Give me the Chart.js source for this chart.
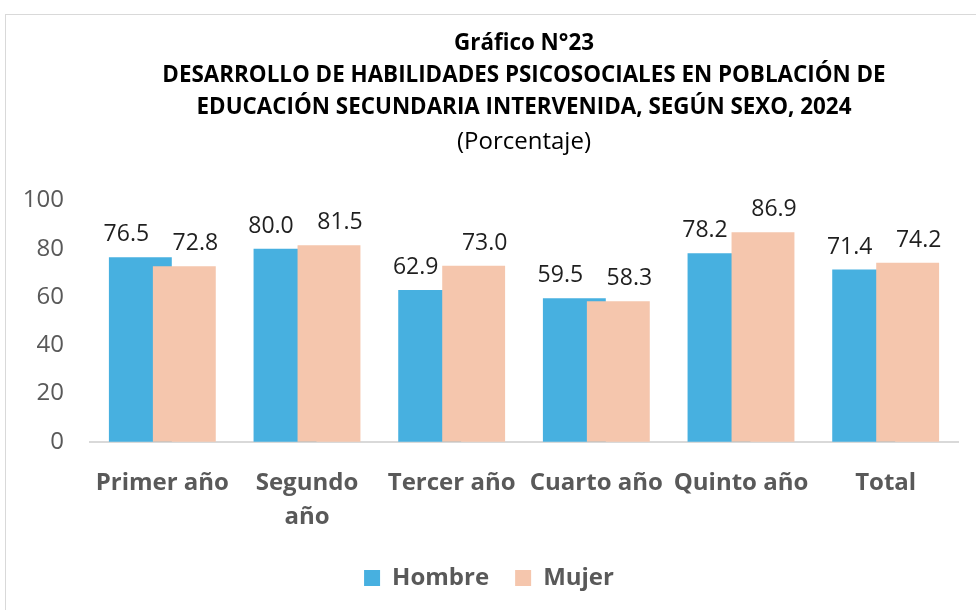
<!DOCTYPE html>
<html lang="es">
<head>
<meta charset="utf-8">
<title>Gráfico N°23</title>
<script src="https://cdn.jsdelivr.net/npm/chart.js@4.4.1/dist/chart.umd.min.js"></script>
<style>
    html, body { margin: 0; padding: 0; background: #fff; overflow: hidden; }
    .frame {
        position: absolute; left: 5px; top: 14px;
        width: 1100px; height: 700px;
        border: 1px solid #d9d9d9;
    }
    #chart23 { position: absolute; left: 0; top: 0; }
</style>
</head>
<body>
<div class="frame"></div>
<canvas id="chart23" width="976" height="610"></canvas>
<script>
// Datos del gráfico
const categories = ['Primer año', ['Segundo', 'año'], 'Tercer año', 'Cuarto año', 'Quinto año', 'Total'];
const hombre = [76.5, 80.0, 62.9, 59.5, 78.2, 71.4];
const mujer = [72.8, 81.5, 73.0, 58.3, 86.9, 74.2];
const yMin = 0;
const yMax = 100;
const yStep = 20;

const titleLines = [
    'Gráfico N°23',
    'DESARROLLO DE HABILIDADES PSICOSOCIALES EN POBLACIÓN DE',
    'EDUCACIÓN SECUNDARIA INTERVENIDA, SEGÚN SEXO, 2024'
];
const subtitleText = '(Porcentaje)';

const BODY_FONT = "'Open Sans', 'DejaVu Sans', sans-serif";

// dibuja las barras en orden (Mujer encima) y luego las etiquetas
const barsAndLabels = {
    id: 'barsAndLabels',
    beforeDatasetsDraw(chart) {
        chart.getSortedVisibleDatasetMetas().forEach(function(meta) {
            meta.controller.draw();
        });
        const ctx = chart.ctx;
        ctx.save();
        ctx.font = '23px ' + BODY_FONT;
        ctx.fillStyle = '#1f1f1f';
        ctx.textAlign = 'center';
        ctx.textBaseline = 'alphabetic';
        chart.getSortedVisibleDatasetMetas().forEach(function(meta) {
            const shift = meta.index === 0 ? -14 : 11;
            meta.data.forEach(function(bar, i) {
                const v = chart.data.datasets[meta.index].data[i];
                ctx.fillText(v.toFixed(1), bar.x + shift, bar.y - 16);
            });
        });
        ctx.restore();
        return false;
    }
};

document.addEventListener('DOMContentLoaded', function() {
    const ctx = document.getElementById('chart23').getContext('2d');
    new Chart(ctx, {
        type: 'bar',
        data: {
            labels: categories,
            datasets: [
                {
                    label: 'Hombre',
                    data: hombre,
                    backgroundColor: '#47b0e0',
                    borderWidth: 0
                },
                {
                    label: 'Mujer',
                    data: mujer,
                    backgroundColor: '#f5c6ad',
                    borderWidth: 0
                }
            ]
        },
        options: {
            responsive: false,
            animation: false,
            devicePixelRatio: 1,
            categoryPercentage: 0.608,
            barPercentage: 1.43,
            layout: { padding: { left: 20, right: 18, top: 0, bottom: 10 } },
            scales: {
                x: {
                    grid: { display: false, drawTicks: false },
                    border: { display: true, color: '#d9d9d9', width: 2 },
                    ticks: {
                        color: '#595959',
                        padding: 25,
                        maxRotation: 0,
                        autoSkip: false,
                        font: { family: BODY_FONT, size: 24, weight: 'bold', lineHeight: 1.4 }
                    },
                    afterFit: function(scale) { scale.height -= 19; }
                },
                y: {
                    min: yMin,
                    max: yMax,
                    grid: { display: false, drawTicks: false },
                    border: { display: false },
                    ticks: {
                        stepSize: yStep,
                        color: '#595959',
                        padding: 26,
                        font: { family: BODY_FONT, size: 24 }
                    },
                    afterFit: function(scale) { scale.width = 70; }
                }
            },
            plugins: {
                title: {
                    display: true,
                    text: titleLines,
                    fullSize: false,
                    color: '#000',
                    font: { family: BODY_FONT, size: 22.4, weight: 'bold', lineHeight: 1.44 },
                    padding: { top: 27, bottom: 0 }
                },
                subtitle: {
                    display: true,
                    text: subtitleText,
                    fullSize: false,
                    color: '#000',
                    font: { family: BODY_FONT, size: 24, lineHeight: 1.2 },
                    padding: { top: 4, bottom: 44 }
                },
                legend: {
                    position: 'bottom',
                    labels: {
                        boxWidth: 16,
                        boxHeight: 16,
                        padding: 26,
                        color: '#595959',
                        font: { family: BODY_FONT, size: 24, weight: 'bold' }
                    }
                },
                tooltip: { enabled: false }
            }
        },
        plugins: [barsAndLabels]
    });
});
</script>
</body>
</html>
